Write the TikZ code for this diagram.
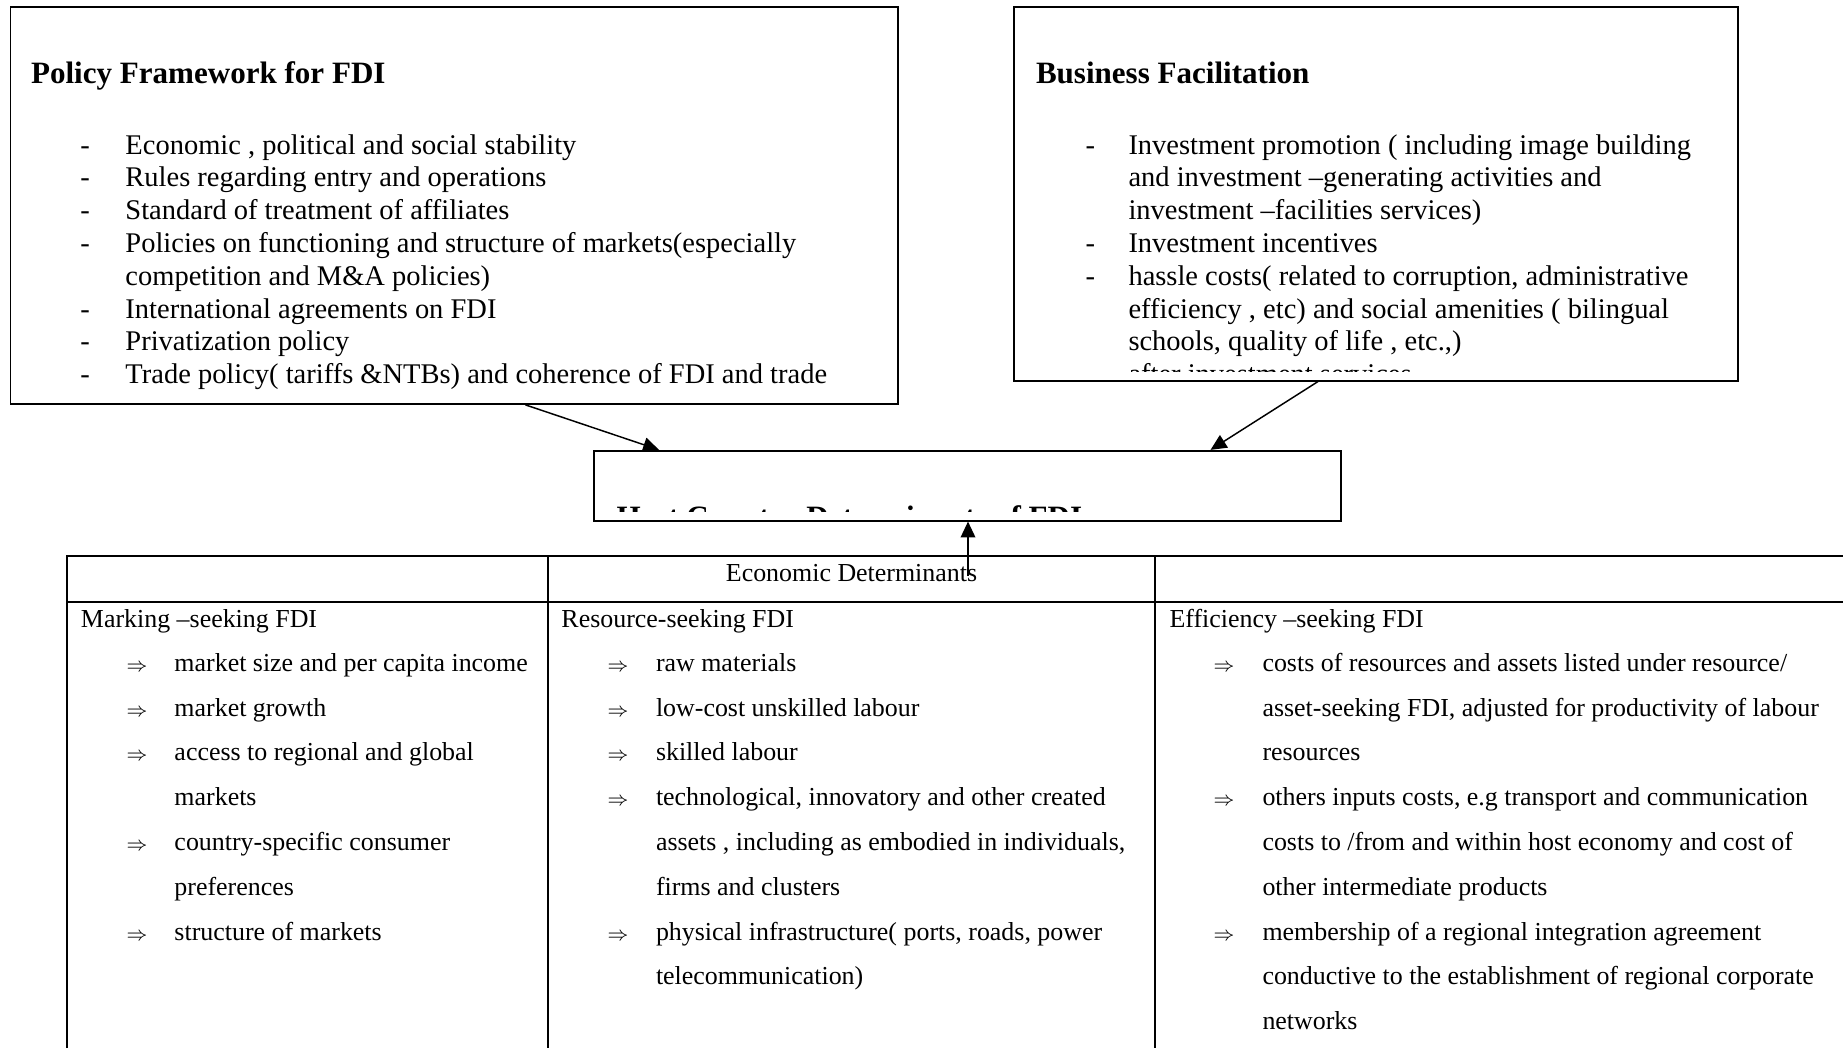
\documentclass[tikz,border=0pt]{standalone}
\usepackage{fontspec}
\setmainfont{Liberation Serif}
\usetikzlibrary{fit,calc,arrows.meta}
\begin{document}
\begin{tikzpicture}[x=0.409pt,y=-0.409pt,
  box/.style={draw, line width=0.7pt, inner sep=0pt},
  txt/.style={anchor=base west, inner sep=0pt, font=\fontsize{11.65}{14}\selectfont},
  head/.style={anchor=base west, inner sep=0pt, font=\fontsize{12.7}{15}\selectfont\bfseries},
  ttxt/.style={anchor=base west, inner sep=0pt, font=\fontsize{10.6}{12}\selectfont},
  tarr/.style={anchor=base, inner sep=0pt, font=\fontsize{8}{8}\selectfont},
  arr/.style={-{Triangle[length=6.5pt,width=6pt]}, line width=0.6pt},
  tline/.style={line width=0.75pt}]
\useasboundingbox (0,0) rectangle (1843,1048);

% ---------- Policy Framework box ----------
\node[box, fit={(10.6,6.7) (898,404)}] (policy) {};
\node[head] (ph) at (30.6,83) {Policy Framework for FDI};
\node[txt] (pd1) at (80,154) {-};
\node[txt] (p1) at (125,154) {Economic , political and social stability};
\node[txt] (pd2) at (80,186.8) {-};
\node[txt] (p2) at (125,186.8) {Rules regarding entry and operations};
\node[txt] (pd3) at (80,219.6) {-};
\node[txt] (p3) at (125,219.6) {Standard of treatment of affiliates};
\node[txt] (pd4) at (80,252.4) {-};
\node[txt] (p4) at (125,252.4) {Policies on functioning and structure of markets(especially};
\node[txt] (p5) at (125,285.2) {competition and M\&A policies)};
\node[txt] (pd6) at (80,318) {-};
\node[txt] (p6) at (125,318) {International agreements on FDI};
\node[txt] (pd7) at (80,350.8) {-};
\node[txt] (p7) at (125,350.8) {Privatization policy};
\node[txt] (pd8) at (80,383.6) {-};
\node[txt] (p8) at (125,383.6) {Trade policy( tariffs \&NTBs) and coherence of FDI and trade};

% ---------- Business Facilitation box ----------
\node[box, fit={(1014,6.7) (1738,380.7)}] (business) {};
\node[head] (bh) at (1035.5,83) {Business Facilitation};
\node[txt] (bd1) at (1085,154) {-};
\node[txt] (b1) at (1128,154) {Investment promotion ( including image building};
\node[txt] (b2) at (1128,186.8) {and investment --generating activities and};
\node[txt] (b3) at (1128,219.6) {investment --facilities services)};
\node[txt] (bd4) at (1085,252.4) {-};
\node[txt] (b4) at (1128,252.4) {Investment incentives};
\node[txt] (bd5) at (1085,285.2) {-};
\node[txt] (b5) at (1128,285.2) {hassle costs( related to corruption, administrative};
\node[txt] (b6) at (1128,318) {efficiency , etc) and social amenities ( bilingual};
\node[txt] (b7) at (1128,350.8) {schools, quality of life , etc.,)};
\begin{scope}
  \clip (1014,6.7) rectangle (1738,371);
  \node[txt] (bd8) at (1085,383.6) {-};
  \node[txt] (b8) at (1128,383.6) {after investment services};
\end{scope}

% ---------- Host country box ----------
\node[box, fit={(594,450.7) (1341,520.7)}] (host) {};
\begin{scope}
  \clip (594,450.7) rectangle (1341,511);
  \node[head] (hh) at (616,527) {Host Country Determinants of FDI};
\end{scope}

% ---------- Table ----------
\draw[tline] (67,1048) -- (67,555.7) -- (1843,555.7);
\draw[tline] (67,601.7) -- (1843,601.7);
\draw[tline] (548,555.7) -- (548,1048);
\draw[tline] (1155,555.7) -- (1155,1048);

\node[ttxt, anchor=base] (ed) at (851.5,581) {Economic Determinants};

% column 1
\node[ttxt] (c1h) at (80.5,627) {Marking --seeking FDI};
\node[tarr] (c1a1) at (137,671.2) {$\Rightarrow$};
\node[ttxt] (c1t1) at (174,671.2) {market size and per capita income};
\node[tarr] (c1a2) at (137,716) {$\Rightarrow$};
\node[ttxt] (c1t2) at (174,716) {market growth};
\node[tarr] (c1a3) at (137,760.8) {$\Rightarrow$};
\node[ttxt] (c1t3) at (174,760.8) {access to regional and global};
\node[ttxt] (c1t4) at (174,805.6) {markets};
\node[tarr] (c1a5) at (137,850.4) {$\Rightarrow$};
\node[ttxt] (c1t5) at (174,850.4) {country-specific consumer};
\node[ttxt] (c1t6) at (174,895.2) {preferences};
\node[tarr] (c1a7) at (137,940) {$\Rightarrow$};
\node[ttxt] (c1t7) at (174,940) {structure of markets};

% column 2
\node[ttxt] (c2h) at (561,627) {Resource-seeking FDI};
\node[tarr] (c2a1) at (618,671.2) {$\Rightarrow$};
\node[ttxt] (c2t1) at (655.5,671.2) {raw materials};
\node[tarr] (c2a2) at (618,716) {$\Rightarrow$};
\node[ttxt] (c2t2) at (655.5,716) {low-cost unskilled labour};
\node[tarr] (c2a3) at (618,760.8) {$\Rightarrow$};
\node[ttxt] (c2t3) at (655.5,760.8) {skilled labour};
\node[tarr] (c2a4) at (618,805.6) {$\Rightarrow$};
\node[ttxt] (c2t4) at (655.5,805.6) {technological, innovatory and other created};
\node[ttxt] (c2t5) at (655.5,850.4) {assets , including as embodied in individuals,};
\node[ttxt] (c2t6) at (655.5,895.2) {firms and clusters};
\node[tarr] (c2a7) at (618,940) {$\Rightarrow$};
\node[ttxt] (c2t7) at (655.5,940) {physical infrastructure( ports, roads, power};
\node[ttxt] (c2t8) at (655.5,984.8) {telecommunication)};

% column 3
\node[ttxt] (c3h) at (1169,627) {Efficiency --seeking FDI};
\node[tarr] (c3a1) at (1224,671.2) {$\Rightarrow$};
\node[ttxt] (c3t1) at (1262,671.2) {costs of resources and assets listed under resource/};
\node[ttxt] (c3t2) at (1262,716) {asset-seeking FDI, adjusted for productivity of labour};
\node[ttxt] (c3t3) at (1262,760.8) {resources};
\node[tarr] (c3a4) at (1224,805.6) {$\Rightarrow$};
\node[ttxt] (c3t4) at (1262,805.6) {others inputs costs, e.g transport and communication};
\node[ttxt] (c3t5) at (1262,850.4) {costs to /from and within host economy and cost of};
\node[ttxt] (c3t6) at (1262,895.2) {other intermediate products};
\node[tarr] (c3a7) at (1224,940) {$\Rightarrow$};
\node[ttxt] (c3t7) at (1262,940) {membership of a regional integration agreement};
\node[ttxt] (c3t8) at (1262,984.8) {conductive to the establishment of regional corporate};
\node[ttxt] (c3t9) at (1262,1029.6) {networks};

% ---------- Connectors ----------
\coordinate (edtop) at (968,576);
\draw[arr] ($(policy.south west)!0.58!(policy.south east)$) -- ($(host.north west)!0.088!(host.north east)$);
\draw[arr] ($(business.south west)!0.42!(business.south east)$) -- ($(host.north west)!0.8246!(host.north east)$);
\draw[arr] (edtop) -- (edtop |- host.south);
\end{tikzpicture}
\end{document}
